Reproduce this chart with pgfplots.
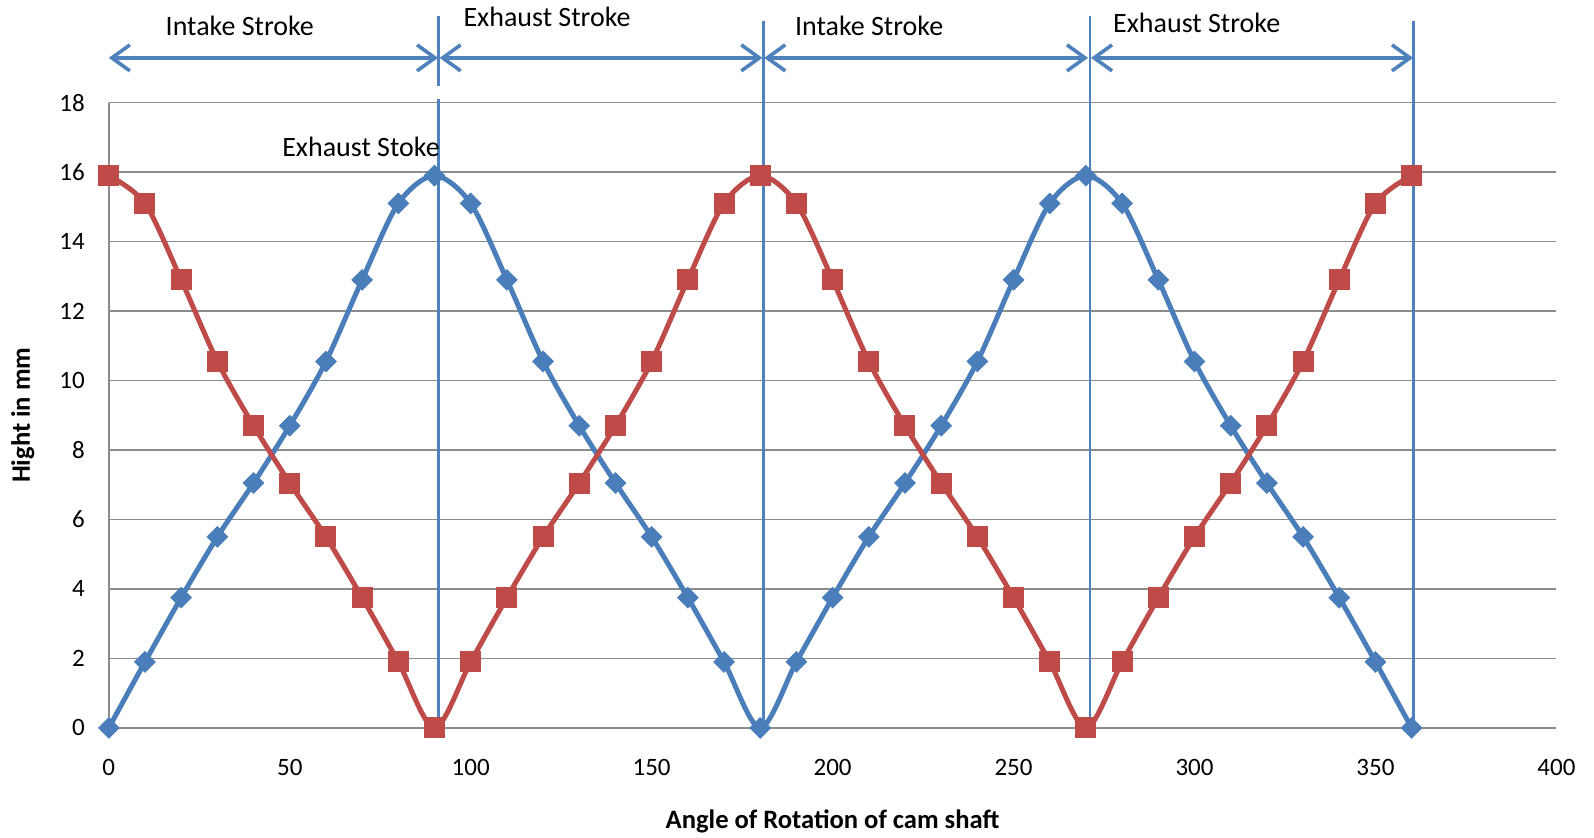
\documentclass[border=0pt]{standalone}
\usepackage{pgfplots}
\pgfplotsset{compat=1.18}
\usepackage{pgfplotstable}
\usepackage{fontspec}
\setmainfont{Carlito}
\usetikzlibrary{arrows.meta}
\definecolor{sblue}{HTML}{4A7EBB}
\definecolor{sred}{HTML}{BE4B48}
\definecolor{lblue}{HTML}{4F81BD}
\definecolor{gridc}{HTML}{8C8C8C}
\pgfplotstableread{
x blue red
0 0 15.9
10 1.9 15.1
20 3.75 12.9
30 5.5 10.55
40 7.05 8.7
50 8.7 7.05
60 10.55 5.5
70 12.9 3.75
80 15.1 1.9
90 15.9 0
100 15.1 1.9
110 12.9 3.75
120 10.55 5.5
130 8.7 7.05
140 7.05 8.7
150 5.5 10.55
160 3.75 12.9
170 1.9 15.1
180 0 15.9
190 1.9 15.1
200 3.75 12.9
210 5.5 10.55
220 7.05 8.7
230 8.7 7.05
240 10.55 5.5
250 12.9 3.75
260 15.1 1.9
270 15.9 0
280 15.1 1.9
290 12.9 3.75
300 10.55 5.5
310 8.7 7.05
320 7.05 8.7
330 5.5 10.55
340 3.75 12.9
350 1.9 15.1
360 0 15.9
}\camdata
\begin{document}
\begin{tikzpicture}
\begin{axis}[
  scale only axis,
  width=723.8pt, height=312.6pt,
  xmin=0, xmax=400, ymin=0, ymax=18,
  xtick={0,50,...,400}, ytick={0,2,...,18},
  axis lines*=left,
  axis line style={-},
  x axis line style={draw=none},
  y axis line style={gridc, line width=0.8pt},
  ymajorgrids,
  grid style={gridc, line width=0.8pt},
  major tick length=0pt,
  /pgf/number format/assume math mode=true,
  tick label style={font=\fontsize{12.5}{14}\selectfont, black},
  xticklabel style={yshift=-12pt},
  yticklabel style={xshift=-8.5pt},
  xlabel={Angle of Rotation of cam shaft},
  ylabel={Hight in mm},
  xlabel style={font=\fontsize{13.3}{15}\selectfont\bfseries, at={(axis description cs:0.5,-0.1497)}, anchor=center},
  ylabel style={font=\fontsize{13.3}{15}\selectfont\bfseries, at={(axis description cs:-0.0594,0.5)}, anchor=center},
  clip=false,
]
\addplot[sblue, line width=2.5pt, smooth, mark=square*, mark size=3.6pt, mark options={rotate=45, fill=sblue, draw=sblue, line width=0.5pt}] table[x=x, y=blue] {\camdata};
\addplot[sred, line width=2.5pt, smooth, mark=square*, mark size=5pt, mark options={fill=sred, draw=sred, line width=0.5pt}] table[x=x, y=red] {\camdata};
% vertical markers
\draw[lblue, line width=1.4pt] (axis cs:91.2,0) -- (axis cs:91.2,18.12);
\draw[lblue, line width=1.4pt] (axis cs:91.2,18.47) -- (axis cs:91.2,20.5);
\draw[lblue, line width=1.4pt] (axis cs:180.9,0) -- (axis cs:180.9,20.35);
\draw[lblue, line width=1.4pt] (axis cs:271.1,0) -- (axis cs:271.1,20.5);
\draw[lblue, line width=1.4pt] (axis cs:360.4,0) -- (axis cs:360.4,20.35);
% arrows
\tikzset{strk/.style={lblue, line width=1.8pt, {Straight Barb[length=9pt,width=13pt]}-{Straight Barb[length=9pt,width=13pt]}}}
\draw[strk] (axis cs:0,19.29) -- (axis cs:91.0,19.29);
\draw[strk] (axis cs:91.4,19.29) -- (axis cs:180.6,19.29);
\draw[strk] (axis cs:181.1,19.29) -- (axis cs:270.6,19.29);
\draw[strk] (axis cs:271.4,19.29) -- (axis cs:360.4,19.29);
% labels
\node[font=\fontsize{14}{16}\selectfont] at (axis cs:36.2,20.22) {Intake Stroke};
\node[font=\fontsize{14}{16}\selectfont] at (axis cs:121.1,20.46) {Exhaust Stroke};
\node[font=\fontsize{14}{16}\selectfont] at (axis cs:210.1,20.22) {Intake Stroke};
\node[font=\fontsize{14}{16}\selectfont] at (axis cs:300.6,20.31) {Exhaust Stroke};
\node[font=\fontsize{14}{16}\selectfont] at (axis cs:69.7,16.74) {Exhaust Stoke};
\end{axis}
\pgfresetboundingbox
\useasboundingbox (-54.4pt,-55.05pt) rectangle (742.6pt,363.95pt);
\end{tikzpicture}
\end{document}
